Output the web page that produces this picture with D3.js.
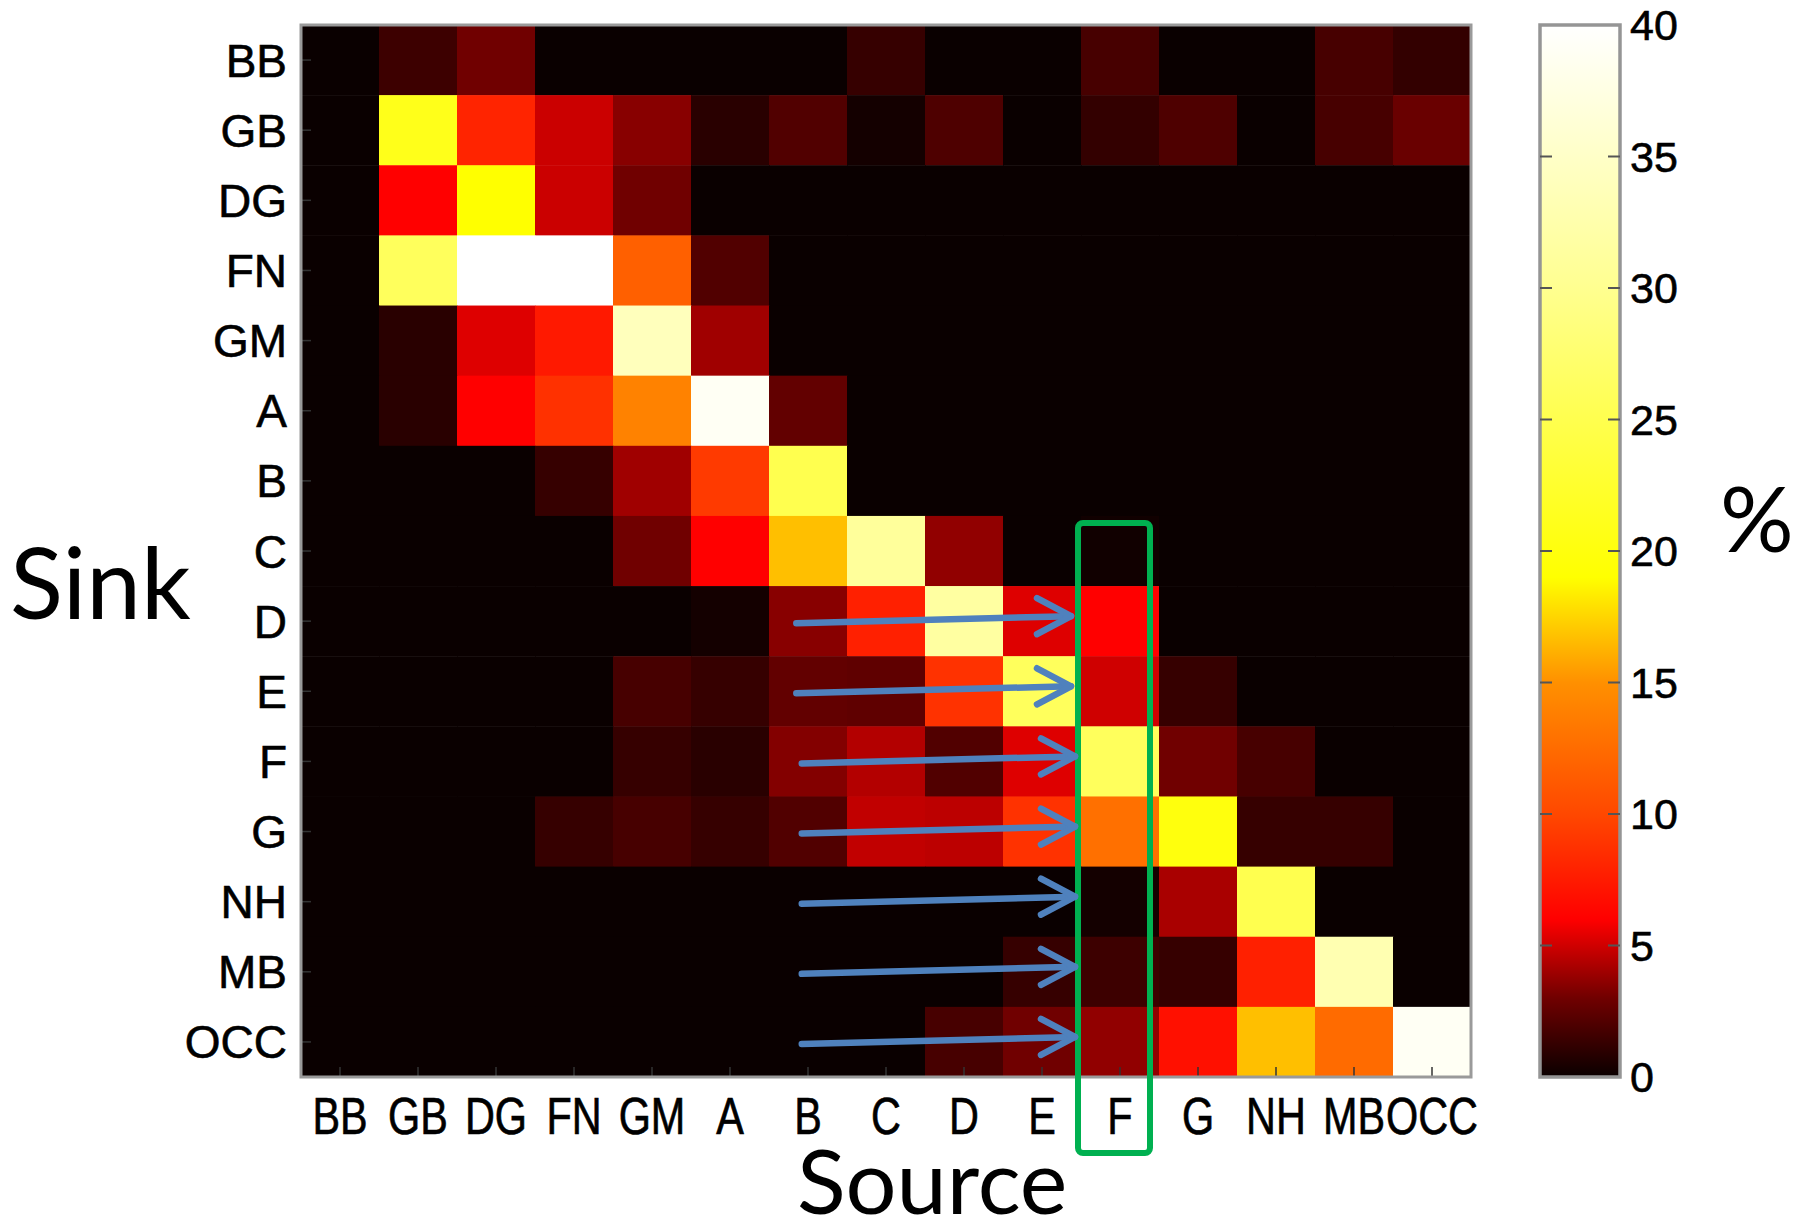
<!DOCTYPE html>
<html>
<head>
<meta charset="utf-8">
<script src="https://cdn.jsdelivr.net/npm/d3@7"></script>
<style>
  body { margin: 0; background: #fff; }
  text { font-family: "Liberation Sans", Arial, sans-serif; }
</style>
</head>
<body>
<div id="chart-area"></div>
<script>

var width = 1802,
	height = 1229;

// regions, same order for sink (rows) and source (columns)
var regions = ["BB", "GB", "DG", "FN", "GM", "A", "B", "C", "D", "E", "F", "G", "NH", "MB", "OCC"];

// percent values, one row per sink, columns are sources
var rowBB  = [0, 1.5, 3, 0, 0, 0, 0, 1.3, 0, 0, 1.8, 0, 0, 1.8, 1.2];
var rowGB  = [0, 21, 8, 4.9, 3.5, 0.9, 2.1, 0.3, 2, 0, 1.2, 2, 0, 1.8, 2.8];
var rowDG  = [0, 6, 19, 4.9, 3, 0, 0, 0, 0, 0, 0, 0, 0, 0, 0];
var rowFN  = [0, 26, 40, 40, 11.7, 2.1, 0, 0, 0, 0, 0, 0, 0, 0, 0];
var rowGM  = [0, 0.9, 5.3, 7.4, 34, 4, 0, 0, 0, 0, 0, 0, 0, 0, 0];
var rowA   = [0, 0.9, 6, 8.7, 14, 39, 2.6, 0, 0, 0, 0, 0, 0, 0, 0];
var rowB   = [0, 0, 0, 1.3, 4, 9.2, 25, 0, 0, 0, 0, 0, 0, 0, 0];
var rowC   = [0, 0, 0, 0, 3, 6, 16.7, 31, 3.7, 0, 0.2, 0, 0, 0, 0];
var rowD   = [0, 0, 0, 0, 0, 0.3, 3.5, 7.8, 31.5, 5.3, 6, 0, 0, 0, 0];
var rowE   = [0, 0, 0, 0, 1.8, 1.3, 2.6, 2.5, 8.8, 26, 5, 1.3, 0, 0, 0];
var rowF   = [0, 0, 0, 0, 1.3, 0.9, 3.4, 4.4, 2.1, 5.3, 26, 3, 1.8, 0, 0];
var rowG   = [0, 0, 0, 1.3, 1.8, 1.3, 2.1, 4.7, 4.6, 8.8, 12.8, 20, 1.3, 1.3, 0];
var rowNH  = [0, 0, 0, 0, 0, 0, 0, 0, 0, 0, 0.3, 4.2, 25, 0, 0];
var rowMB  = [0, 0, 0, 0, 0, 0, 0, 0, 0, 1.3, 1.5, 1.3, 7.8, 33, 0];
var rowOCC = [0, 0, 0, 0, 0, 0, 0, 0, 1.8, 3, 3.7, 6.9, 16.7, 12.4, 39];

var matrix = [rowBB, rowGB, rowDG, rowFN, rowGM, rowA, rowB, rowC, rowD, rowE, rowF, rowG, rowNH, rowMB, rowOCC];

// colour bar ticks
var cbTicks = [0, 5, 10, 15, 20, 25, 30, 35, 40];

// highlighted source column and the rows pointed at
var focusSource = "F";
var arrowRows = ["D", "E", "F", "G", "NH", "MB", "OCC"];

// "hot"-like colour map as it appears on the bar
var hotStops = [0, 3, 6, 10, 15, 19, 30, 40];
var hotColors = ["#0a0000", "#700000", "#ff0000", "#ff4800", "#ff9000", "#ffff00", "#ffff90", "#ffffff"];

var plot = {left: 301, right: 1471, top: 25, bottom: 1077};

var svg = d3.select("#chart-area").append("svg")
	.attr("width", width)
	.attr("height", height);

svg.append("rect").attr("width", width).attr("height", height).attr("fill", "#fff");

var x = d3.scaleBand().domain(regions).range([plot.left, plot.right]);
var y = d3.scaleBand().domain(regions).range([plot.top, plot.bottom]);
var color = d3.scaleLinear().domain(hotStops).range(hotColors).clamp(true);

var cells = [];
matrix.forEach(function(row, i) {
	row.forEach(function(v, j) {
		cells.push({sink: regions[i], source: regions[j], value: v});
	});
});

svg.append("g").selectAll("rect")
	.data(cells)
	.enter().append("rect")
	.attr("x", function(d) { return x(d.source); })
	.attr("y", function(d) { return y(d.sink); })
	.attr("width", x.bandwidth() + 0.5)
	.attr("height", y.bandwidth() + 0.5)
	.attr("fill", function(d) { return color(d.value); });

// axes (MATLAB style, ticks pointing inward)
var xAxis = svg.append("g")
	.attr("transform", "translate(0," + plot.bottom + ")")
	.call(d3.axisBottom(x).tickSizeInner(-10).tickSizeOuter(0).tickPadding(14));
var yAxis = svg.append("g")
	.attr("transform", "translate(" + plot.left + ",0)")
	.call(d3.axisLeft(y).tickSizeInner(-10).tickSizeOuter(0).tickPadding(14));

[xAxis, yAxis].forEach(function(a) {
	a.select(".domain").remove();
	a.selectAll(".tick line").attr("stroke", "#333").attr("stroke-width", 1.5);
	a.selectAll(".tick text")
		.attr("fill", "#000")
		.attr("stroke", "#000")
		.attr("stroke-width", 0.6)
		.style("font-size", "46px");
});
xAxis.selectAll(".tick text")
	.attr("dy", null)
	.attr("y", 0)
	.attr("transform", "translate(0,57) scale(0.9,1.13)");
yAxis.selectAll(".tick text").attr("dy", "0.36em");

// frame
svg.append("rect")
	.attr("x", plot.left).attr("y", plot.top)
	.attr("width", plot.right - plot.left).attr("height", plot.bottom - plot.top)
	.attr("fill", "none").attr("stroke", "#9a9a9a").attr("stroke-width", 3);

// colour bar
var cb = {x: 1540, w: 80};
var cbScale = d3.scaleLinear().domain([0, 40]).range([plot.bottom, plot.top]);

var grad = svg.append("defs").append("linearGradient")
	.attr("id", "hotgrad")
	.attr("x1", 0).attr("y1", 1).attr("x2", 0).attr("y2", 0);
grad.selectAll("stop")
	.data(hotStops)
	.enter().append("stop")
	.attr("offset", function(d) { return d / 40; })
	.attr("stop-color", function(d) { return color(d); });

svg.append("rect")
	.attr("x", cb.x).attr("y", plot.top)
	.attr("width", cb.w).attr("height", plot.bottom - plot.top)
	.attr("fill", "url(#hotgrad)")
	.attr("stroke", "#959595").attr("stroke-width", 3.5);

var cbg = svg.append("g");
cbg.selectAll(".tl")
	.data(cbTicks.slice(1, -1))
	.enter().append("line")
	.attr("x1", cb.x).attr("x2", cb.x + 12)
	.attr("y1", function(d) { return cbScale(d); })
	.attr("y2", function(d) { return cbScale(d); })
	.attr("stroke", "#555").attr("stroke-width", 2);
cbg.selectAll(".tr")
	.data(cbTicks.slice(1, -1))
	.enter().append("line")
	.attr("x1", cb.x + cb.w - 12).attr("x2", cb.x + cb.w)
	.attr("y1", function(d) { return cbScale(d); })
	.attr("y2", function(d) { return cbScale(d); })
	.attr("stroke", "#555").attr("stroke-width", 2);
cbg.selectAll("text")
	.data(cbTicks)
	.enter().append("text")
	.attr("x", cb.x + cb.w + 10)
	.attr("y", function(d) { return cbScale(d); })
	.attr("dy", "0.36em")
	.attr("stroke", "#000").attr("stroke-width", 0.6)
	.style("font-size", "43px")
	.text(function(d) { return d; });

// titles
svg.append("text")
	.attr("x", 10).attr("y", 619)
	.style("font-family", "Lato, 'Open Sans', sans-serif")
	.style("font-size", "98px")
	.text("Sink");
svg.append("text")
	.attr("x", 797).attr("y", 1214)
	.style("font-family", "Lato, 'Open Sans', sans-serif")
	.style("font-size", "90px")
	.text("Source");
svg.append("text")
	.attr("x", 1720).attr("y", 552)
	.style("font-family", "Lato, 'Open Sans', sans-serif")
	.style("font-size", "92px")
	.text("%");

// highlight box round the focus source column
svg.append("rect")
	.attr("x", x(focusSource) - 3)
	.attr("y", y("C") + 7)
	.attr("width", x.bandwidth() - 6)
	.attr("height", plot.bottom + 76 - y("C") - 7)
	.attr("rx", 5)
	.attr("fill", "none")
	.attr("stroke", "#00b050")
	.attr("stroke-width", 6);

// arrows towards the focus column
var arrows = svg.append("g")
	.attr("stroke", "#4f81bd")
	.attr("stroke-width", 6.5)
	.attr("stroke-linecap", "round")
	.attr("stroke-linejoin", "round")
	.attr("fill", "none");

arrowRows.forEach(function(r, i) {
	var cy = y(r) + y.bandwidth() / 2;
	var x0 = x("B") + x.bandwidth() * (0.35 + (i >= 2 ? 0.07 : 0));
	var x1 = x(focusSource) - 10 + (i >= 2 ? 4 : 0);
	var y0 = cy + 2, y1 = cy - 5;
	arrows.append("line")
		.attr("x1", x0).attr("y1", y0)
		.attr("x2", x1).attr("y2", y1);
	arrows.append("path")
		.attr("d", "M" + (x1 - 34) + "," + (y1 - 18) + "L" + x1 + "," + y1 + "L" + (x1 - 34) + "," + (y1 + 18));
});

</script>
</body>
</html>
